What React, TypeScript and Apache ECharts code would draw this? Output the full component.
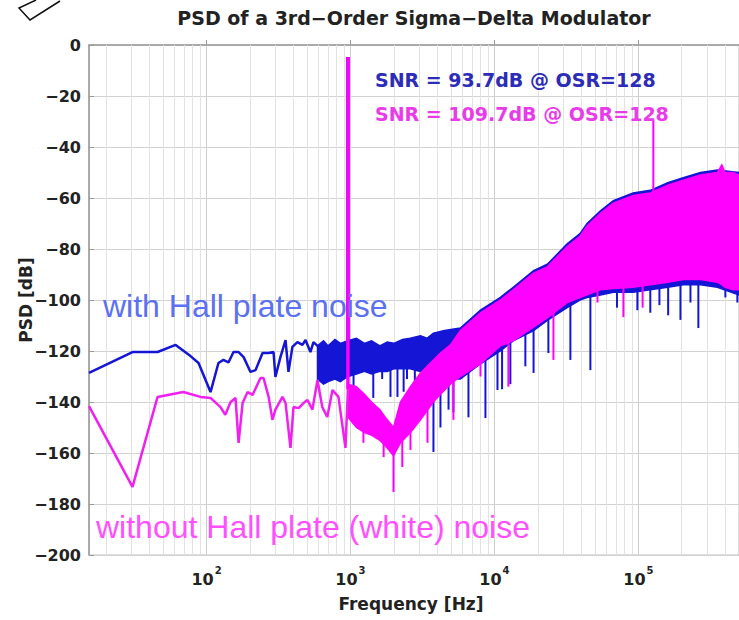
import React, { useEffect, useRef } from "react";
import * as echarts from "echarts";

// ---- Data (frequency in Hz, PSD in dB) ----
const xMin = 15.26;
const xMax = 500000;
const yTicks = [-200, -180, -160, -140, -120, -100, -80, -60, -40, -20, 0];

// "with Hall plate noise" (blue)
const blueTraceF = [15.26, 30.6, 45.7, 61, 77.4, 88, 106.6, 121, 131, 142, 154, 167, 181, 202, 219, 245, 270, 292, 301, 326, 354, 371, 395, 428, 464, 487, 527, 553, 590];
const blueTraceDb = [-128.6, -120.4, -120.4, -117.6, -122, -124.7, -136.1, -124.7, -123.5, -124.5, -120.4, -120.4, -122.4, -128.2, -127.5, -120.8, -120.8, -120.4, -130.2, -122.4, -115.7, -128.2, -118.4, -116.5, -117.6, -115.7, -120.4, -116.5, -118];
const blueBandF = [590, 650, 700, 780, 850, 960, 1100, 1250, 1400, 1600, 1800, 2000, 2300, 2600, 3063, 3400, 3768, 4500, 5800, 8000, 11000, 13500, 18700, 23300, 32000, 39300, 44000, 54500, 67000, 92000, 121000, 160000, 205000, 270000, 354000, 500000];
const blueBandUp = [-118, -116, -118, -115.5, -117, -116, -115, -117, -116, -118, -116.5, -117, -115.5, -115, -114, -115, -113, -112, -111, -104, -99, -95, -88.5, -86, -78, -74, -70, -65, -61, -58, -57, -54, -52, -50, -49, -50];
const blueBandLo = [-131, -133, -132, -131, -132, -130, -129, -128, -129, -128, -128, -127, -127, -127, -128, -129, -130, -131, -131, -125, -120, -116, -112, -108, -103, -100, -99, -98, -97, -97, -96, -95, -94, -94, -95, -98];
const blueSpikeF = [960, 1050, 1440, 1660, 1896, 2120, 2340, 2470, 2800, 3770, 4217, 4800, 5190, 6600, 8660, 10500, 11300, 12900, 16400, 18700, 23700, 33700, 46400, 71000, 98400, 121000, 140000, 161000, 196000, 230000, 261000, 402000, 487000];
const blueSpikeFrom = [-118, -128, -127, -127, -126, -126, -126, -126, -126, -128, -130, -130, -130, -128, -123, -119, -118, -117, -113, -111, -107, -102, -98, -96, -96, -95, -95, -94, -93, -93, -93, -94, -96];
const blueSpikeTo = [-4.7, -147, -138.4, -131, -138, -138, -136, -131, -134, -159.6, -150, -143, -144, -146, -146.3, -135.3, -135, -133, -126, -128.6, -120.8, -123.5, -127.5, -103, -104, -105, -102, -106, -107.8, -101, -111, -99, -101];

// "without Hall plate (white) noise" (magenta)
const magTraceF = [15.26, 30.6, 45.7, 69, 90.9, 106.6, 125, 135, 147, 159, 167, 178, 193, 209, 237, 249, 270, 287, 301, 337, 354, 383, 402, 436, 472, 503, 544, 590, 637, 690, 750, 825, 923, 960];
const magTraceDb = [-141.6, -173.3, -138, -136.1, -138, -138.4, -142, -145, -140, -138.4, -156, -140.4, -136.1, -137.2, -130.6, -130.6, -138, -147, -143, -138, -140.4, -158, -142, -142.4, -140.4, -139.2, -143, -131.4, -142, -145.9, -135.3, -138, -158, -135];
const magBandF = [960, 1100, 1250, 1400, 1600, 1800, 1990, 2224, 2610, 3063, 3768, 4217, 4947, 5800, 8000, 11000, 13500, 18700, 23300, 32000, 39300, 44000, 54500, 67000, 92000, 121000, 160000, 205000, 270000, 354000, 380000, 400000, 457000, 500000];
const magBandUp = [-133, -134, -137, -140, -143, -147, -150, -140, -134, -128.6, -123.5, -120.8, -117.6, -112, -105, -100, -96, -89.5, -87, -79, -75, -71, -66, -62, -59, -58, -55, -53, -51, -50, -47, -50, -50, -51];
const magBandLo = [-146, -150, -152, -153, -155, -158, -161, -156, -152, -147, -140, -137, -133, -130, -125, -118, -116, -110.6, -107, -101, -99, -98, -96, -95.5, -95, -94, -93, -92, -92, -93, -94, -95, -96, -96];
const magSpikeF = [960, 1230, 1700, 1990, 2290, 2610, 3428, 5190, 8000, 12500, 25700, 52000, 78700, 107000, 127000];
const magSpikeFrom = [-135, -150, -154, -158, -154, -150, -140, -130, -122, -115, -105, -95, -94, -93, -58];
const magSpikeTo = [-4.7, -156, -161.6, -175.3, -165.5, -158.8, -156, -147, -130, -134, -123.5, -101, -106.7, -103, -29.4];

// minor log grid lines (2..9 x decade)
const decades = [10, 100, 1000, 10000, 100000];
const mantissas = [2, 3, 4, 5, 6, 7, 8, 9];
const minorGrid = decades.flatMap((d) => mantissas.map((m) => m * d)).filter((v) => v > xMin && v < xMax);

const BOLD = '"DejaVu Sans", sans-serif';
const BLUE = "#1515d5";
const MAG = "#ff00ff";

function bandSeries(f: number[], up: number[], lo: number[], color: string) {
  return {
    type: "custom",
    coordinateSystem: "cartesian2d",
    silent: true,
    z: 3,
    encode: { x: 0, y: 1 },
    data: [[f[0], up[0]]],
    renderItem: (_p: any, api: any) => {
      const pts: number[][] = [];
      for (let i = 0; i < f.length; i++) pts.push(api.coord([f[i], up[i]]));
      for (let i = f.length - 1; i >= 0; i--) pts.push(api.coord([f[i], lo[i]]));
      return { type: "polygon", shape: { points: pts }, style: { fill: color, stroke: color, lineWidth: 1.5 } };
    },
  };
}

function spikeSeries(f: number[], from: number[], to: number[], color: string) {
  return {
    type: "custom",
    coordinateSystem: "cartesian2d",
    silent: true,
    z: 3,
    encode: { x: 0, y: [1, 2] },
    data: f.map((v, i) => [v, from[i], to[i]]),
    renderItem: (_p: any, api: any) => {
      const a = api.coord([api.value(0), api.value(1)]);
      const b = api.coord([api.value(0), api.value(2)]);
      const w = api.value(2) > -10 ? 3.5 : 2;
      return { type: "line", shape: { x1: a[0], y1: a[1], x2: b[0], y2: b[1] }, style: { stroke: color, lineWidth: w } };
    },
  };
}

function txt(text: string, x: number, y: number, font: string, fill: string, align = "left", rotation = 0) {
  return {
    type: "text",
    x,
    y,
    rotation,
    silent: true,
    z: 10,
    style: { text, font, fill, align, verticalAlign: "middle", textAlign: align, textVerticalAlign: "middle" },
  };
}

export default function App() {
  const ref = useRef<HTMLDivElement>(null);
  useEffect(() => {
    if (!ref.current) return;
    const chart = echarts.init(ref.current, null, { renderer: "svg" });
    const option: any = {
      animation: false,
      backgroundColor: "#ffffff",
      grid: { left: 89, right: 0, top: 45, bottom: 65, show: true, borderColor: "#bdbdbd", borderWidth: 1 },
      xAxis: {
        type: "log",
        logBase: 10,
        min: xMin,
        max: xMax,
        axisLine: { show: true, lineStyle: { color: "#9a9a9a", width: 1.5 } },
        axisTick: { show: true, inside: true, length: 5, lineStyle: { color: "#9a9a9a" } },
        splitLine: { show: true, lineStyle: { color: "#cdcdcd", width: 1 } },
        axisLabel: {
          margin: 10,
          showMinLabel: false,
          showMaxLabel: false,
          formatter: (v: number) => {
            const e = Math.log10(v);
            const r = Math.round(e);
            if (Math.abs(e - r) > 1e-6) return "";
            return "{b|10}{s|" + r + "}";
          },
          rich: {
            b: { fontFamily: BOLD, fontWeight: "bold", fontSize: 16, color: "#222", lineHeight: 22, verticalAlign: "bottom" },
            s: { fontFamily: BOLD, fontWeight: "bold", fontSize: 10, color: "#222", lineHeight: 22, verticalAlign: "top", padding: [0, 0, 0, 1] },
          },
        },
      },
      yAxis: {
        type: "value",
        min: yTicks[0],
        max: yTicks[yTicks.length - 1],
        interval: 20,
        axisLine: { show: true, lineStyle: { color: "#9a9a9a", width: 1.5 } },
        axisTick: { show: true, inside: true, length: 5, lineStyle: { color: "#9a9a9a" } },
        splitLine: { show: true, lineStyle: { color: "#d2d2d2", width: 1 } },
        axisLabel: {
          margin: 8,
          fontFamily: BOLD,
          fontWeight: "bold",
          fontSize: 16,
          color: "#222",
          formatter: (v: number) => String(v).replace("-", "\u2212"),
        },
      },
      series: [
        {
          type: "line",
          z: 1,
          silent: true,
          symbol: "none",
          data: [[100, -100]],
          lineStyle: { opacity: 0 },
          markLine: {
            z: 1,
            silent: true,
            symbol: ["none", "none"],
            label: { show: false },
            lineStyle: { color: "#e2e2e2", width: 1, type: "solid" },
            data: minorGrid.map((v) => ({ xAxis: v })),
          },
        },
        {
          type: "line",
          z: 3,
          silent: true,
          symbol: "none",
          data: blueTraceF.map((f, i) => [f, blueTraceDb[i]]),
          lineStyle: { color: BLUE, width: 2.5 },
        },
        bandSeries(blueBandF, blueBandUp, blueBandLo, BLUE),
        spikeSeries(blueSpikeF, blueSpikeFrom, blueSpikeTo, BLUE),
        {
          type: "line",
          z: 3,
          silent: true,
          symbol: "none",
          data: magTraceF.map((f, i) => [f, magTraceDb[i]]),
          lineStyle: { color: "#f020f0", width: 2.5 },
        },
        bandSeries(magBandF, magBandUp, magBandLo, MAG),
        spikeSeries(magSpikeF, magSpikeFrom, magSpikeTo, MAG),
      ],
      graphic: [
        txt("PSD of a 3rd\u2212Order Sigma\u2212Delta Modulator", 414, 18, `bold 19px ${BOLD}`, "#222", "center"),
        txt("Frequency [Hz]", 411, 604, `bold 17px ${BOLD}`, "#222", "center"),
        txt("PSD [dB]", 26, 300, `bold 17px ${BOLD}`, "#222", "center", Math.PI / 2),
        txt("SNR = 93.7dB @ OSR=128", 375, 80, `bold 19px ${BOLD}`, "#2c2cb8", "left"),
        txt("SNR = 109.7dB @ OSR=128", 375, 114, `bold 19px ${BOLD}`, "#e83ce8", "left"),
        txt("with Hall plate noise", 103, 306, `32px "Liberation Sans", Arial, sans-serif`, "#5b70f2", "left"),
        txt("without Hall plate (white) noise", 96, 527, `32px "Liberation Sans", Arial, sans-serif`, "#ff50ff", "left"),
        {
          type: "polyline",
          silent: true,
          z: 10,
          shape: { points: [[36, 0], [19, 8], [30, 20], [60, 1]] },
          style: { stroke: "#111", lineWidth: 1.5, fill: "none" },
        },
      ],
    };
    chart.setOption(option);
    return () => chart.dispose();
  }, []);
  return (
    <div
      ref={ref}
      style={{ position: "fixed", left: 0, top: 0, width: 739, height: 620, background: "#fff" }}
    />
  );
}
